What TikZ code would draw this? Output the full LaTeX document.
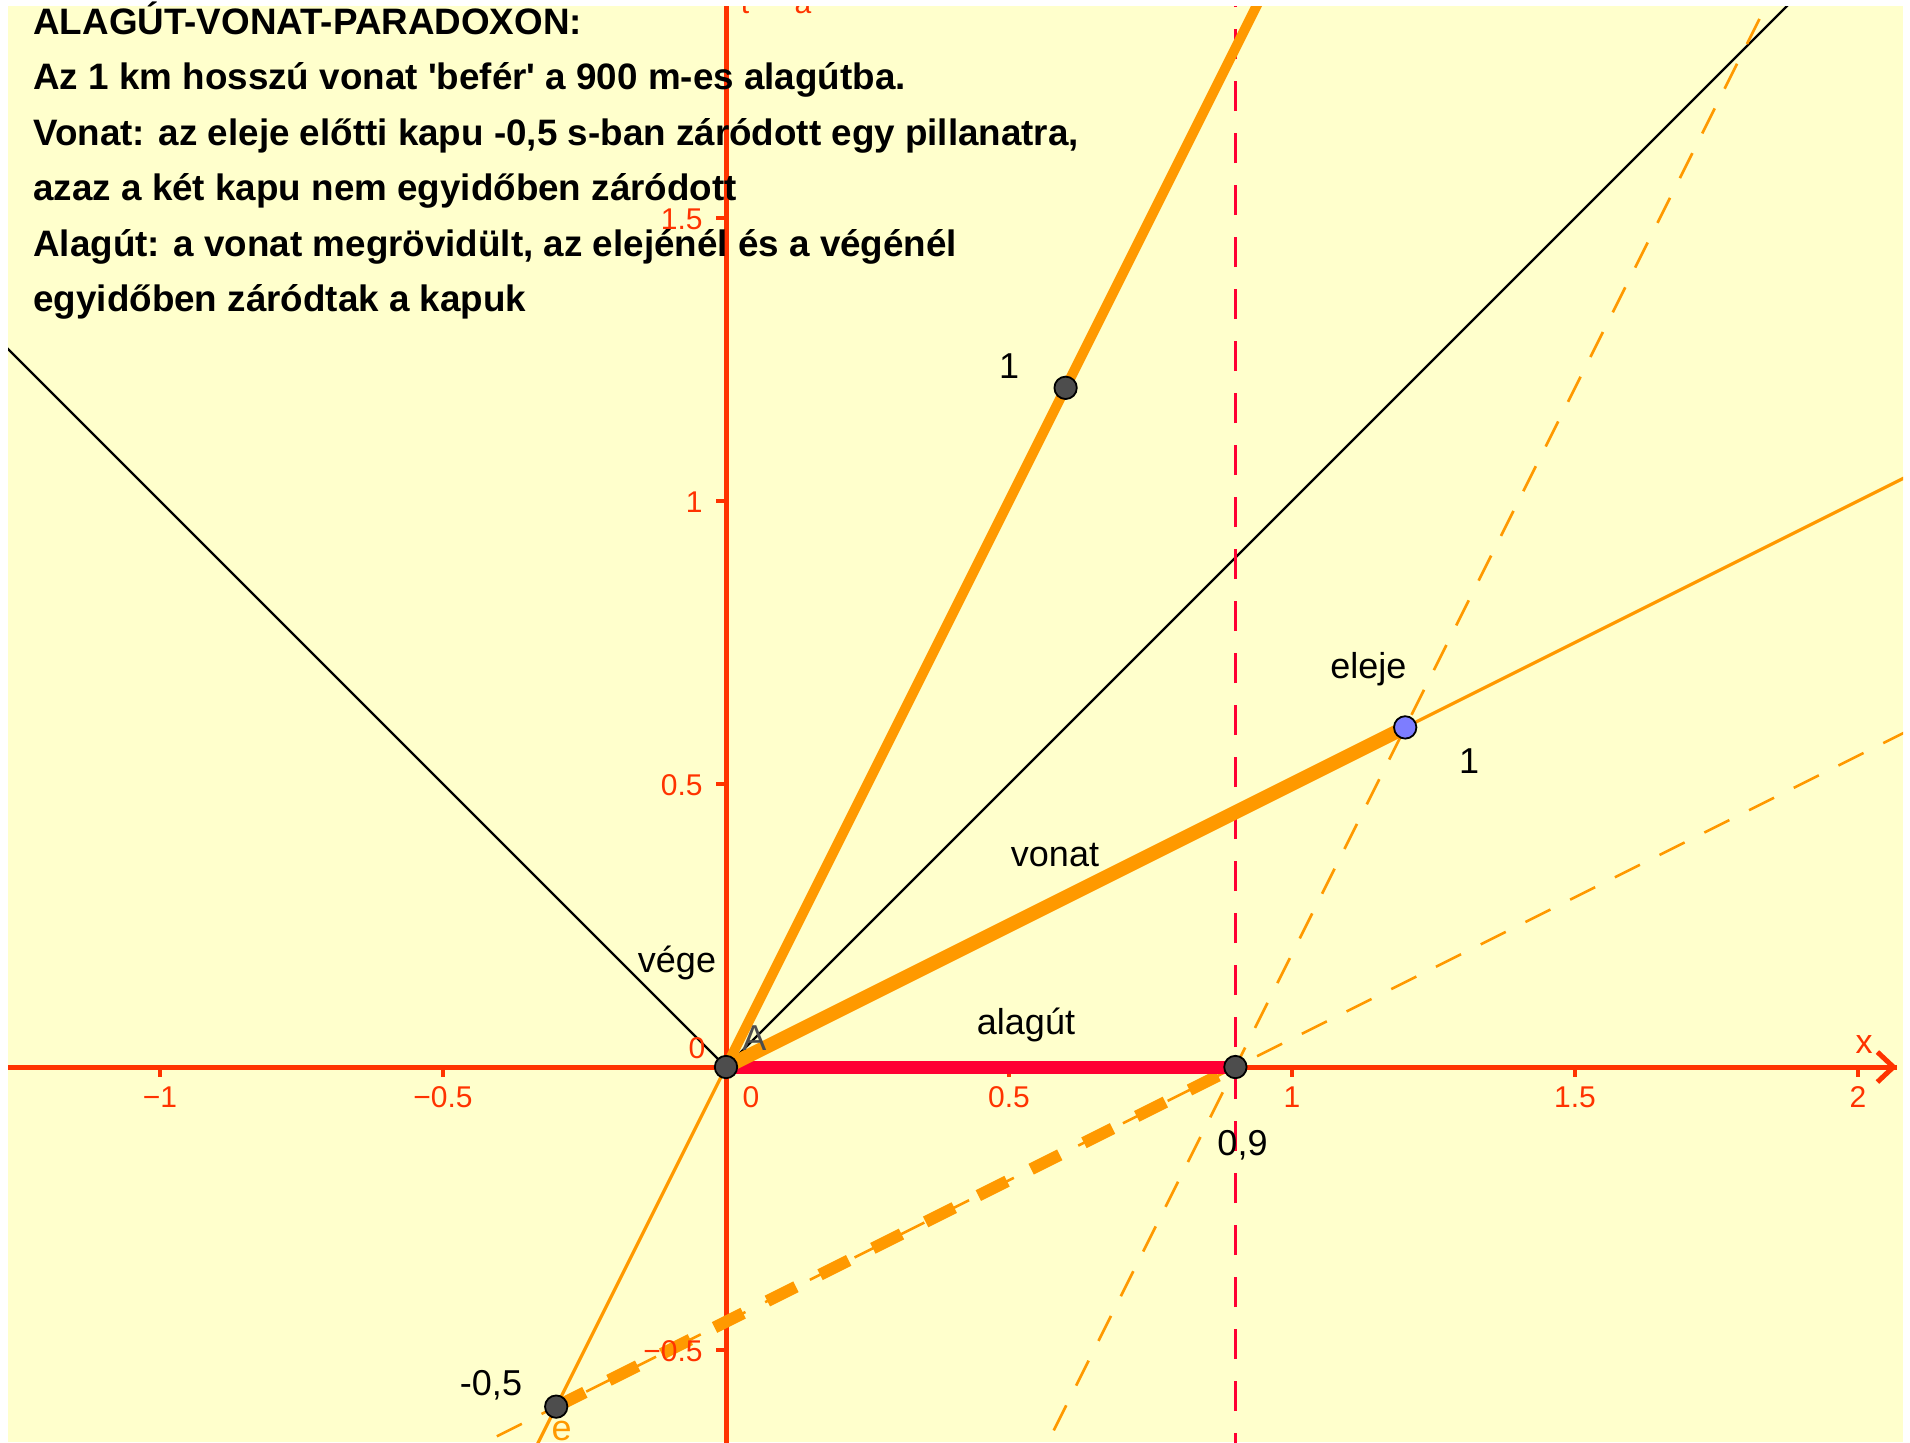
\documentclass[tikz,border=0pt]{standalone}
\usepackage{fontspec}
\setmainfont{Liberation Sans}
\usetikzlibrary{arrows.meta}
\definecolor{bgyellow}{RGB}{255,255,204}
\definecolor{axisred}{RGB}{255,51,0}
\definecolor{tunnelred}{RGB}{255,0,51}
\definecolor{ggorange}{RGB}{255,153,0}
\definecolor{ptgray}{RGB}{77,77,77}
\definecolor{ptblue}{RGB}{125,125,255}
\tikzset{
  titletext/.style={font=\fontsize{18.4}{21}\selectfont\bfseries, inner sep=0pt, anchor=base west},
  lbl/.style={font=\fontsize{18}{21}\selectfont, inner sep=0pt, anchor=base, text=black},
  ticklbl/.style={font=\fontsize{15}{18}\selectfont, inner sep=0pt, anchor=base, text=axisred},
  axisline/.style={draw=axisred, line width=2.5pt},
  tickmark/.style={draw=axisred, line width=2.2pt},
  lightcone/.style={draw=black, line width=1.1pt},
  thinorange/.style={draw=ggorange, line width=1.6pt},
  thindash/.style={draw=ggorange, line width=1.3pt, dash pattern=on 14pt off 11pt},
  reddash/.style={draw=tunnelred, line width=1.5pt, dash pattern=on 15pt off 11pt},
  thickorange/.style={draw=ggorange, line width=5pt},
  trainline/.style={draw=ggorange, line width=7pt},
  thickdash/.style={draw=ggorange, line width=6pt, dash pattern=on 16pt off 13.5pt},
  tunnel/.style={draw=tunnelred, line width=6.5pt},
  darkpt/.style={fill=ptgray, draw=black, line width=0.9pt},
  bluept/.style={fill=ptblue, draw=black, line width=0.9pt}
}
\begin{document}
\begin{tikzpicture}[x=0.5pt, y=-0.5pt]
\useasboundingbox (0,0) rectangle (1910,1442);
\fill[white] (0,0) rectangle (1910,1442);
\fill[bgyellow] (8,6) rectangle (1903,1442);
\begin{scope}
\clip (8,6) rectangle (1903,1442);
% clipped axis label fragments at the top
\node[ticklbl] (ylabA) at (745,13) {t};
\node[ticklbl] (ylabB) at (803,13) {a};
\begin{scope}[shift={(726,1067)}, x=283pt, y=283pt]
  \coordinate (A) at (0,0);
  \coordinate (T) at (0.9,0);
  \coordinate (E) at (1.2,0.6);
  \coordinate (P) at (0.6,1.2);
  \coordinate (Q) at (-0.3,-0.6);
  \coordinate (lcR) at (2.3,2.3);
  \coordinate (lcL) at (-1.5,1.5);
  \coordinate (ctTop) at (1.0,2.0);
  \coordinate (ctBot) at (-0.4,-0.8);
  \coordinate (xpEnd) at (2.3,1.15);
  \coordinate (d2a) at (0.5,-0.8);
  \coordinate (d2b) at (1.95,2.1);
  \coordinate (d5a) at (-0.8,-0.85);
  \coordinate (d5b) at (2.3,0.7);
  \coordinate (vTop) at (0.9,1.95);
  \coordinate (vBot) at (0.9,-0.7);
  \coordinate (xL) at (-1.35,0);
  \coordinate (xR) at (2.069,0);
  \coordinate (yB) at (0,-0.7);
  \coordinate (yT) at (0,1.95);
  % light cone
  \draw[lightcone] (A) -- (lcR);
  \draw[lightcone] (A) -- (lcL);
  % axes
  \draw[axisline] (xL) -- (xR);
  \draw[axisred, line width=2.5pt, -{Straight Barb[length=8pt,width=15pt]}] (1.9,0) -- (xR);
  \draw[axisline] (yB) -- (yT);
  \foreach \t in {-1,-0.5,0.5,1,1.5,2} \draw[tickmark] (\t,0) -- (\t,-0.0177);
  \foreach \t in {-0.5,0.5,1,1.5} \draw[tickmark] (0,\t) -- (-0.0177,\t);
  % red dashed vertical at 0.9
  \draw[reddash] (vBot) -- (vTop);
  % thin orange lines
  \draw[thinorange] (ctBot) -- (A);
  \draw[thinorange] (A) -- (xpEnd);
  \draw[thindash] (d2a) -- (d2b);
  \draw[thindash] (d5a) -- (d5b);
  % thick lines
  \draw[thickdash] (Q) -- (T);
  \draw[tunnel] (A) -- (T);
  \draw[thickorange] (A) -- (ctTop);
  \draw[trainline] (A) -- (E);
  % points
  \draw[darkpt] (A) circle[radius=5.6pt];
  \draw[darkpt] (T) circle[radius=5.6pt];
  \draw[darkpt] (P) circle[radius=5.6pt];
  \draw[darkpt] (Q) circle[radius=5.6pt];
  \draw[bluept] (E) circle[radius=5.6pt];
\end{scope}
% orange label e (clipped at bottom)
\node[lbl, text=ggorange] (lbE) at (561.7,1440) {e};
\end{scope}
% tick labels
\node[ticklbl] (tx1) at (160,1107) {−1};
\node[ticklbl] (tx2) at (443,1107) {−0.5};
\node[ticklbl] (tx0) at (751,1107) {0};
\node[ticklbl] (tx3) at (1009,1107) {0.5};
\node[ticklbl] (tx4) at (1292,1107) {1};
\node[ticklbl] (tx5) at (1575,1107) {1.5};
\node[ticklbl] (tx6) at (1858,1107) {2};
\node[ticklbl] (ty0) at (697,1058) {0};
\node[ticklbl, anchor=base east] (ty1) at (703,795) {0.5};
\node[ticklbl, anchor=base east] (ty2) at (703,512) {1};
\node[ticklbl, anchor=base east] (ty3) at (703,229) {1.5};
\node[ticklbl, anchor=base east] (ty4) at (703,1361) {−0.5};
\node[ticklbl, font=\fontsize{17}{20}\selectfont] (xlab) at (1864,1053) {x};
% labels
\node[lbl] (l1) at (1009,378) {1};
\node[lbl, anchor=base west] (lel) at (1330,678) {eleje};
\node[lbl] (l1b) at (1469,773) {1};
\node[lbl] (lvo) at (1055,866) {vonat};
\node[lbl] (lve) at (677,972) {vége};
\node[lbl] (lal) at (1026,1034) {alagút};
\node[lbl, anchor=base west, text=ptgray] (lA) at (742,1050) {A};
\node[lbl] (l09) at (1242.5,1155) {0,9};
\node[lbl] (l05) at (491,1395) {-0,5};
% title text
\node[titletext] (t1) at (33,34) {ALAGÚT-VONAT-PARADOXON:};
\node[titletext] (t2) at (33,89.5) {Az 1 km hosszú vonat \textquotesingle befér\textquotesingle\ a 900 m-es alagútba.};
\node[titletext] (t3) at (33,145) {Vonat: az eleje előtti kapu -0,5 s-ban záródott egy pillanatra,};
\node[titletext] (t4) at (33,200.5) {azaz a két kapu nem egyidőben záródott};
\node[titletext] (t5) at (33,256) {Alagút: a vonat megrövidült, az elejénél és a végénél};
\node[titletext] (t6) at (33,311.5) {egyidőben záródtak a kapuk};
\end{tikzpicture}
\end{document}
